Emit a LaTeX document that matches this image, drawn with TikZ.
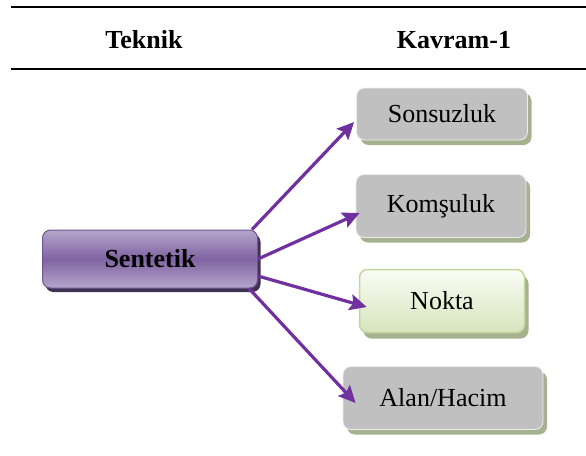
\documentclass[tikz,border=0pt]{standalone}
\usepackage{fontspec}
\setmainfont{Liberation Serif}
\usetikzlibrary{arrows.meta,shadows}
\definecolor{arrowpurple}{HTML}{7030A0}
\definecolor{sentlight}{HTML}{B5A5CB}
\definecolor{sentmid}{HTML}{8064A2}
\definecolor{sentborder}{HTML}{6E5592}
\definecolor{sentshadow}{HTML}{3F3151}
\definecolor{boxgray}{HTML}{C0C0C0}
\definecolor{boxedge}{HTML}{EDEDED}
\definecolor{greenshadow}{HTML}{A6B28F}
\definecolor{noktatop}{HTML}{FAFCF5}
\definecolor{noktabot}{HTML}{D7E4BD}
\definecolor{noktaedge}{HTML}{C3D69B}
\tikzset{
  x=1pt, y=-1pt,
  txt/.style={font=\fontsize{26}{30}\selectfont},
  hdr/.style={font=\fontsize{26}{30}\selectfont\bfseries},
  sentbox/.style={txt, font=\fontsize{26}{30}\selectfont\bfseries, rounded corners=8pt,
    draw=sentborder, line width=1pt, shading=axis, top color=sentlight,
    bottom color=sentlight, middle color=sentmid,
    drop shadow={shadow xshift=3pt, shadow yshift=-4pt, fill=sentshadow, opacity=1},
    minimum width=215pt, minimum height=58pt, inner sep=0pt},
  graybox/.style={txt, rounded corners=8pt, draw=boxedge, line width=0.8pt, fill=boxgray,
    drop shadow={shadow xshift=4pt, shadow yshift=-5pt, fill=greenshadow, opacity=1},
    inner sep=0pt},
  greenbox/.style={txt, rounded corners=8pt, draw=noktaedge, line width=1.5pt,
    top color=noktatop, bottom color=noktabot,
    drop shadow={shadow xshift=4pt, shadow yshift=-6pt, fill=greenshadow, opacity=1},
    inner sep=0pt},
  link/.style={draw=arrowpurple, line width=3.2pt,
    -{Stealth[length=17pt, width=16pt, inset=3pt]}}
}
\begin{document}
\begin{tikzpicture}
\useasboundingbox (0,0) rectangle (586,455);
% table rules
\coordinate (t1) at (11,7);
\coordinate (t2) at (586,7);
\coordinate (b1) at (11,69);
\coordinate (b2) at (586,69);
\draw[line width=2pt] (t1) -- (t2);
\draw[line width=2pt] (b1) -- (b2);
\node[hdr] (teknik) at (144,40) {Teknik};
\node[hdr] (kavram) at (454,40) {Kavram-1};
% nodes
\node[sentbox] (sent) at (150,259) {Sentetik};
\node[graybox, minimum width=171pt, minimum height=52pt] (son) at (442,114) {Sonsuzluk};
\node[graybox, minimum width=170pt, minimum height=63pt] (kom) at (441,206) {Komşuluk};
\node[greenbox, minimum width=165pt, minimum height=63pt] (nok) at (442,301) {Nokta};
\node[graybox, minimum width=200pt, minimum height=63pt] (alan) at (443,398) {Alan/Hacim};
% connectors
\draw[link] ([xshift=-6pt]sent.north east) -- ([yshift=-8pt,xshift=-2pt]son.west);
\draw[link] (sent.east) -- ([yshift=-7pt,xshift=4pt]kom.west);
\draw[link] ([yshift=-17pt]sent.east) -- ([yshift=-6pt,xshift=8pt]nok.west);
\draw[link] ([xshift=-9pt]sent.south east) -- ([yshift=-5pt,xshift=13pt]alan.west);
\end{tikzpicture}
\end{document}
